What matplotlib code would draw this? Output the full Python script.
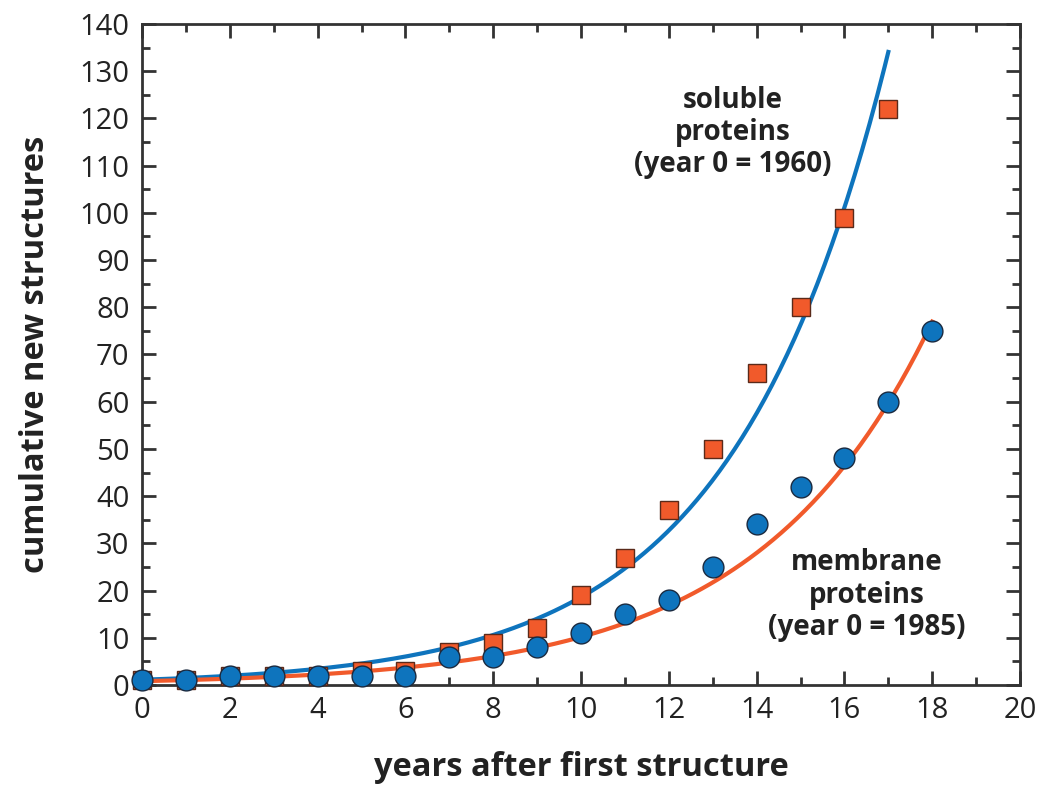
import numpy as np
import matplotlib
matplotlib.use("Agg")
import matplotlib.pyplot as plt
from matplotlib.ticker import MultipleLocator

plt.rcParams['font.family'] = ['Open Sans', 'DejaVu Sans']

# data
sol_years = [0, 1, 2, 3, 4, 5, 6, 7, 8, 9, 10, 11, 12, 13, 14, 15, 16, 17]
sol_counts = [1, 1, 2, 2, 2, 3, 3, 7, 9, 12, 19, 27, 37, 50, 66, 80, 99, 122]
mem_years = [0, 1, 2, 3, 4, 5, 6, 7, 8, 9, 10, 11, 12, 13, 14, 15, 16, 17, 18]
mem_counts = [1, 1, 2, 2, 2, 2, 2, 6, 6, 8, 11, 15, 18, 25, 34, 42, 48, 60, 75]

# exponential fit parameters (a * exp(b * t))
sol_fit = (1.11, 0.282)
mem_fit = (0.81, 0.253)

blue = "#0e74bd"
orange = "#f15a2b"

fig = plt.figure(figsize=(10.52, 7.86), dpi=100)
ax = fig.add_axes([0.135, 0.1285, 0.8346, 0.841])

t1 = np.linspace(0, max(sol_years), 200)
t2 = np.linspace(0, max(mem_years), 200)
ax.plot(t1, sol_fit[0] * np.exp(sol_fit[1] * t1), color=blue, lw=3, zorder=2)
ax.plot(t2, mem_fit[0] * np.exp(mem_fit[1] * t2), color=orange, lw=3, zorder=2)

ax.plot(sol_years, sol_counts, 's', ms=13, mfc=orange, mec="#5a2a1a", mew=1, zorder=3, clip_on=False)
ax.plot(mem_years, mem_counts, 'o', ms=15, mfc=blue, mec="#1a2a40", mew=1, zorder=4, clip_on=False)

ax.set_xlim(0, 20)
ax.set_ylim(0, 140)
ax.xaxis.set_major_locator(MultipleLocator(2))
ax.xaxis.set_minor_locator(MultipleLocator(1))
ax.yaxis.set_major_locator(MultipleLocator(10))
ax.yaxis.set_minor_locator(MultipleLocator(5))
ax.tick_params(which='both', direction='in', top=True, right=True,
               width=2, color="#333333", labelsize=21, labelcolor="#222222")
ax.tick_params(which='major', length=10)
ax.tick_params(which='minor', length=6)
ax.tick_params(axis='x', pad=8)
ax.tick_params(axis='y', pad=9)
for s in ax.spines.values():
    s.set_linewidth(2)
    s.set_color("#333333")

ax.set_xlabel("years after first structure", fontsize=23.5, fontweight='bold', color="#222222", labelpad=19)
ax.set_ylabel("cumulative new structures", fontsize=23.5, fontweight='bold', color="#222222", labelpad=20)

ax.text(13.45, 117, "soluble\nproteins\n(year 0 = 1960)", ha='center', va='center',
        fontsize=20, fontweight='bold', color="#222222", linespacing=1.15)
ax.text(16.5, 19, "membrane\nproteins\n(year 0 = 1985)", ha='center', va='center',
        fontsize=20, fontweight='bold', color="#222222", linespacing=1.15)

fig.savefig("out.png", dpi=100)
